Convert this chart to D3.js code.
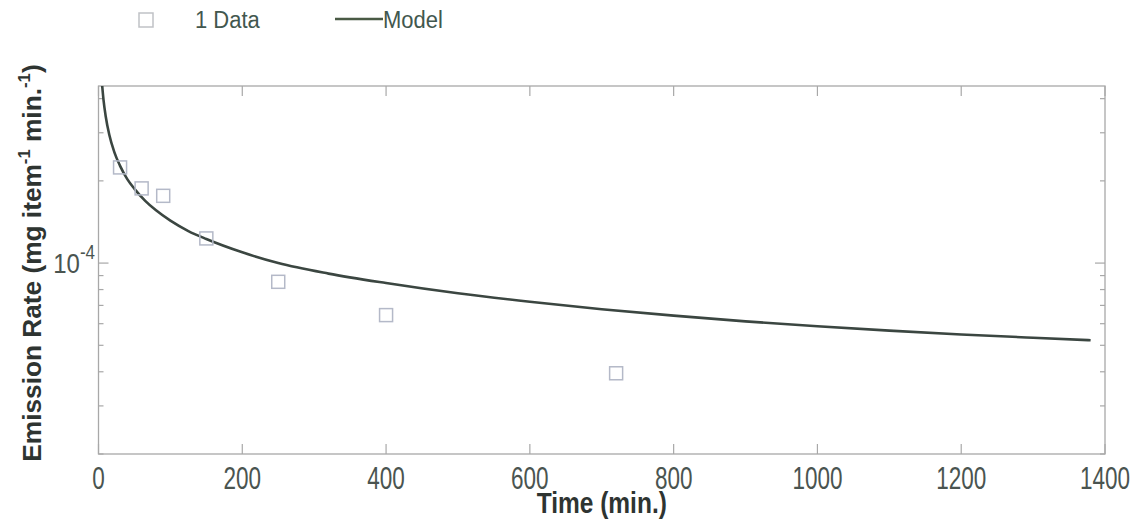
<!DOCTYPE html>
<html><head><meta charset="utf-8">
<script src="https://cdn.jsdelivr.net/npm/d3@7/dist/d3.min.js"></script>
<style>body{margin:0;background:#fff;}svg{display:block;}</style>
</head><body><svg id="c" width="1141" height="522"></svg>
<script>
// Data
const dataTime = [30, 60, 90, 150, 250, 400, 720];
const dataRate = [2.24e-4, 1.877e-4, 1.763e-4, 1.231e-4, 8.54e-5, 6.45e-5, 3.95e-5];
const modelTime = [5, 7, 10, 15, 22, 30, 40, 50, 65, 80, 100, 125, 150, 200, 250, 320, 400, 500, 600, 700, 800, 900, 1000, 1100, 1200, 1300, 1380];
const modelRate = [4.5e-4, 3.95e-4, 3.45e-4, 2.95e-4, 2.55e-4, 2.27e-4, 2.03e-4, 1.87e-4, 1.69e-4, 1.56e-4, 1.43e-4, 1.31e-4, 1.225e-4, 1.095e-4, 1.0e-4, 9.15e-5, 8.45e-5, 7.75e-5, 7.22e-5, 6.78e-5, 6.42e-5, 6.12e-5, 5.87e-5, 5.66e-5, 5.48e-5, 5.33e-5, 5.22e-5];
const xTicks = [0, 200, 400, 600, 800, 1000, 1200, 1400];
const yMinorTicks = [2e-5, 3e-5, 4e-5, 5e-5, 6e-5, 7e-5, 8e-5, 9e-5, 2e-4, 3e-4, 4e-4];
const yMajorTicks = [1e-4];
const legendLabels = ["1 Data", "Model"];

const svg = d3.select("#c");
const L = 98.5, R = 1105, T = 86, B = 454;
const x = d3.scaleLinear().domain([0, 1400]).range([L, R]);
const y = d3.scaleLog().domain([2e-5, 4.45e-4]).range([B, T]);

const FONT = "Liberation Sans, Arial, sans-serif";
const boxCol = "#a8a8a8", tickTxt = "#4a5450", curveCol = "#3b4641", sqCol = "#b4b9c8";

svg.append("defs").append("clipPath").attr("id","clip").append("rect")
  .attr("x", L).attr("y", T).attr("width", R-L).attr("height", B-T);

svg.append("rect").attr("x", L).attr("y", T).attr("width", R-L).attr("height", B-T)
  .attr("fill","none").attr("stroke", boxCol).attr("stroke-width", 1.3);

// x ticks
const gx = svg.append("g");
xTicks.forEach(t => {
  gx.append("line").attr("x1", x(t)).attr("x2", x(t)).attr("y1", B).attr("y2", B-10)
    .attr("stroke", boxCol).attr("stroke-width", 1.2);
  gx.append("line").attr("x1", x(t)).attr("x2", x(t)).attr("y1", T).attr("y2", T+10)
    .attr("stroke", boxCol).attr("stroke-width", 1.2);
  gx.append("text").attr("transform", `translate(${x(t)},489) scale(1,1.4)`).attr("text-anchor","middle")
    .attr("font-family", FONT).attr("font-size", 22.5)
    .attr("fill", tickTxt).text(d3.format("d")(t));
});

// y ticks
const gy = svg.append("g");
yMinorTicks.forEach(v => {
  [[L, L+5], [R, R-5]].forEach(([a,b]) => gy.append("line").attr("x1", a).attr("x2", b)
    .attr("y1", y(v)).attr("y2", y(v)).attr("stroke", boxCol).attr("stroke-width", 1.2));
});
yMajorTicks.forEach(v => {
  [[L, L+10], [R, R-10]].forEach(([a,b]) => gy.append("line").attr("x1", a).attr("x2", b)
    .attr("y1", y(v)).attr("y2", y(v)).attr("stroke", boxCol).attr("stroke-width", 1.2));
  const t = gy.append("text").attr("transform", `translate(95,${y(v)+10}) scale(1,1.15)`)
    .attr("text-anchor","end").attr("font-family", FONT).attr("font-size", 24)
    .attr("fill", tickTxt);
  t.append("tspan").text("10");
  t.append("tspan").attr("dy", -12).attr("font-size", 17).text("-" + Math.round(-Math.log10(v)));
});

// axis titles
svg.append("text").attr("transform", `translate(${(L+R)/2},513) scale(1,1.2)`).attr("text-anchor","middle")
  .attr("font-family", FONT).attr("font-size", 24.5)
  .attr("font-weight","bold").attr("fill","#2e3431").text("Time (min.)");

const yl = svg.append("text").attr("transform", `translate(41,263) rotate(-90) scale(1.05,1)`)
  .attr("text-anchor","middle").attr("font-family", FONT).attr("font-size", 25)
  .attr("font-weight","bold").attr("fill","#2e3431");
yl.append("tspan").text("Emission Rate (mg item");
yl.append("tspan").attr("dy", -11).attr("font-size", 16).text("-1");
yl.append("tspan").attr("dy", 11).text(" min.");
yl.append("tspan").attr("dy", -11).attr("font-size", 16).text("-1");
yl.append("tspan").attr("dy", 11).text(")");

// model curve
const pts = modelTime.map((t,i) => [t, modelRate[i]]);
svg.append("path").datum(pts).attr("clip-path","url(#clip)")
  .attr("d", d3.line().x(d => x(d[0])).y(d => y(d[1])).curve(d3.curveMonotoneX))
  .attr("fill","none").attr("stroke", curveCol).attr("stroke-width", 2.6);

// data squares
const s = 13;
svg.append("g").selectAll("rect").data(dataTime.map((t,i)=>[t, dataRate[i]])).join("rect")
  .attr("x", d => x(d[0]) - s/2).attr("y", d => y(d[1]) - s/2)
  .attr("width", s).attr("height", s).attr("fill","none")
  .attr("stroke", sqCol).attr("stroke-width", 1.5);

// legend
const lg = svg.append("g");
lg.append("rect").attr("x", 139).attr("y", 13).attr("width", 14).attr("height", 14)
  .attr("fill","none").attr("stroke","#c0c2c6").attr("stroke-width", 1.5);
lg.append("text").attr("transform","translate(195,28) scale(1,1.1)").attr("font-family", FONT)
  .attr("font-size", 22).attr("fill","#42574e").text(legendLabels[0]);
lg.append("line").attr("x1", 335).attr("x2", 383).attr("y1", 19).attr("y2", 19)
  .attr("stroke","#4a5a45").attr("stroke-width", 2.6);
lg.append("text").attr("transform","translate(383,28) scale(1,1.1)").attr("font-family", FONT)
  .attr("font-size", 22).attr("fill","#42574e").text(legendLabels[1]);
</script></body></html>
